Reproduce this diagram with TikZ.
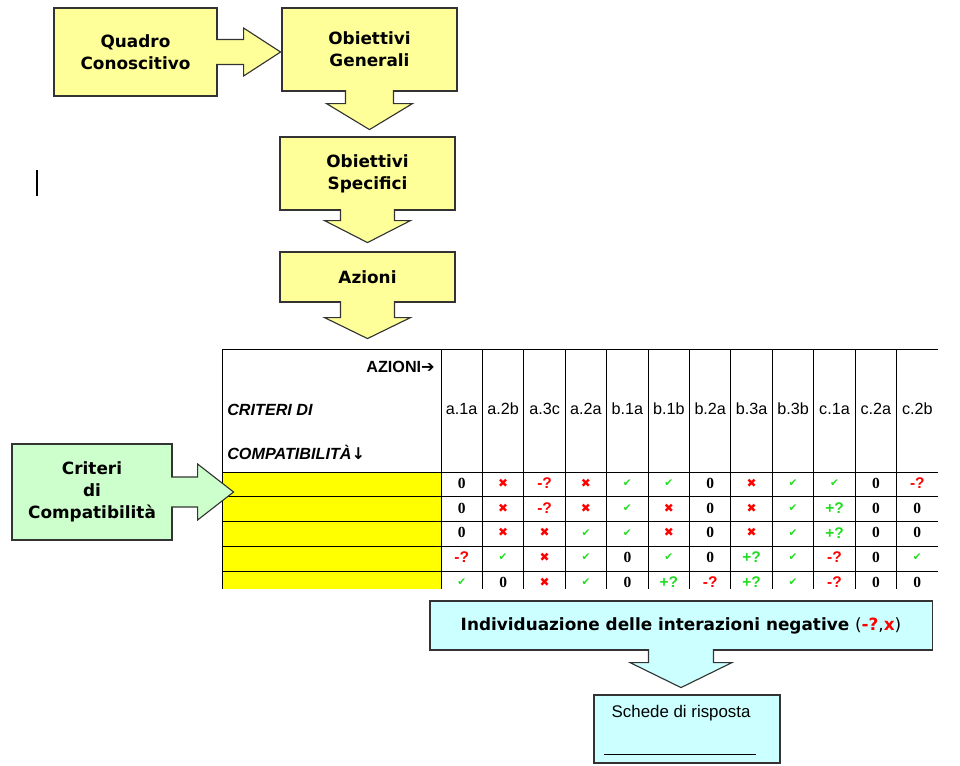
\documentclass[tikz,border=0pt]{standalone}
\usepackage{fontspec}
\setmainfont{DejaVu Sans}
\newfontfamily\tabfont{Liberation Sans}
\newfontfamily\numfont{Liberation Serif}
\newfontfamily\symfont{DejaVu Sans}
\usetikzlibrary{calc}
\definecolor{boxyellow}{HTML}{FFFF99}
\definecolor{boxgreen}{HTML}{CCFFCC}
\definecolor{boxcyan}{HTML}{CCFFFF}
\definecolor{tabyellow}{HTML}{FFFF00}
\definecolor{okgreen}{HTML}{22DD22}
\newcommand{\cellO}{{\numfont\bfseries 0}}
\newcommand{\cellX}{{\symfont\fontsize{8.5}{9}\selectfont\color{red}✖}}
\newcommand{\cellV}{{\symfont\fontsize{7.5}{8}\selectfont\color{okgreen}✔}}
\newcommand{\cellM}{{\tabfont\bfseries\color{red}-?}}
\newcommand{\cellP}{{\tabfont\bfseries\color{okgreen}+?}}
% callout arrows: node, shaft half, shaft length, head half, head length, fill
\newcommand{\calloutdown}[6]{%
  \path[callout,fill=#6] ($(#1.south)+(-#2,-1.5)$) -- ++(0,#3+1.5) -- ++(-#4+#2,0)
    -- ++(#4,#5) -- ++(#4,-#5) -- ++(-#4+#2,0) -- ++(0,-#3-1.5);}
\newcommand{\calloutright}[6]{%
  \path[callout,fill=#6] ($(#1.east)+(-1.5,-#2)$) -- ++(#3+1.5,0) -- ++(0,-#4+#2)
    -- ++(#5,#4) -- ++(-#5,#4) -- ++(0,-#4+#2) -- ++(-#3-1.5,0);}

\begin{document}
\begin{tikzpicture}[x=0.025cm,y=-0.025cm,
    box/.style={draw=black!80,line width=0.8pt,align=center,
      font=\fontsize{12}{15.5}\selectfont\bfseries},
    callout/.style={draw=black!80,line width=0.8pt},
    tabline/.style={black,line width=0.7pt},
    collab/.style={font=\tabfont\fontsize{11.5}{12}\selectfont,inner sep=0pt},
    cell/.style={font=\fontsize{11}{12}\selectfont,inner sep=0pt},
    tabhead/.style={inner sep=0pt,font=\tabfont\fontsize{11.5}{12}\selectfont\bfseries}]
  \useasboundingbox (0,0) rectangle (960,765);

  \node[box,fill=boxyellow,minimum width=4.075cm,minimum height=2.2cm] (qc) at (135.5,52) {Quadro\\Conoscitivo};
  \node[box,fill=boxyellow,minimum width=4.375cm,minimum height=2.075cm] (og) at (369.5,49.5) {Obiettivi\\Generali};
  \node[box,fill=boxyellow,minimum width=4.375cm,minimum height=1.825cm] (os) at (367.5,173.5) {Obiettivi\\Specifici};
  \node[box,fill=boxyellow,minimum width=4.375cm,minimum height=1.25cm] (az) at (367.5,277) {Azioni};
  \calloutright{qc}{12.5}{26}{24}{37}{boxyellow}
  \calloutdown{og}{24}{12}{43}{26}{boxyellow}
  \calloutdown{os}{27}{10}{43}{22}{boxyellow}
  \calloutdown{az}{27}{15}{43}{21}{boxyellow}

  \draw[line width=1.5pt] (37,170) -- (37,196);

  % tabella azioni / criteri
  \begin{scope}
    \clip (0,0) rectangle (960,588);
    \fill[tabyellow] (222,472) rectangle (441,590);
    \draw[tabline] (222,349) -- (938,349);
    \draw[tabline] (222,349) -- (222,590);
    \foreach \i in {0,...,11}
      \draw[tabline] (441+\i*41.42,349) -- (441+\i*41.42,590);
    \foreach \y in {472,496.75,521.5,546.25,571}
      \draw[tabline] (222,\y) -- (938,\y);
    \foreach \lab [count=\c] in {a.1a,a.2b,a.3c,a.2a,b.1a,b.1b,b.2a,b.3a,b.3b,c.1a,c.2a,c.2b}
      \node[collab] (h\c) at (441+\c*41.42-20.71,409) {\lab};
    \foreach \row [count=\r] in {{O,X,M,X,V,V,O,X,V,V,O,M},
                                 {O,X,M,X,V,X,O,X,V,P,O,O},
                                 {O,X,X,V,V,X,O,X,V,P,O,O},
                                 {M,V,X,V,O,V,O,P,V,M,O,V},
                                 {V,O,X,V,O,P,M,P,V,M,O,O}}
      \foreach \v [count=\c] in \row
        \node[cell] (c\r-\c) at (441+\c*41.42-20.71,472+\r*24.75-13.5) {\csname cell\v\endcsname};
  \end{scope}
  \node[tabhead,anchor=east] (azh) at (435,367) {AZIONI{\symfont ➔}};
  \node[tabhead,anchor=west,font=\tabfont\fontsize{11.5}{12}\selectfont\bfseries\itshape] (crh) at (227,410) {CRITERI DI};
  \node[tabhead,anchor=west,font=\tabfont\fontsize{11.5}{12}\selectfont\bfseries\itshape] (cph) at (227,452) {COMPATIBILITÀ{\symfont\upshape ↓}};

  \node[box,fill=boxgreen,minimum width=4cm,minimum height=2.4cm] (cc) at (92,492) {Criteri\\di\\Compatibilità};
  \calloutright{cc}{15}{25}{28}{36}{boxgreen}

  \node[box,fill=boxcyan,minimum width=12.55cm,minimum height=1.225cm,font=\fontsize{12}{14}\selectfont] (ind) at (681,625.5)
    {\bfseries Individuazione delle interazioni negative \mdseries(\textcolor{red}{\bfseries -?},\textcolor{red}{\bfseries x})};
  \calloutdown{ind}{32.5}{12}{51}{25}{boxcyan}

  \node[draw=black!80,line width=0.8pt,fill=boxcyan,minimum width=4.65cm,minimum height=1.7cm] (sr) at (687,729) {};
  \node[anchor=west,inner sep=0pt,font=\tabfont\fontsize{12}{14}\selectfont] (srt) at ($(sr.north west)+(18,19)$) {Schede di risposta};
  \draw[line width=0.7pt] ($(sr.south west)+(11,-9)$) -- ++(152,0);
\end{tikzpicture}
\end{document}
